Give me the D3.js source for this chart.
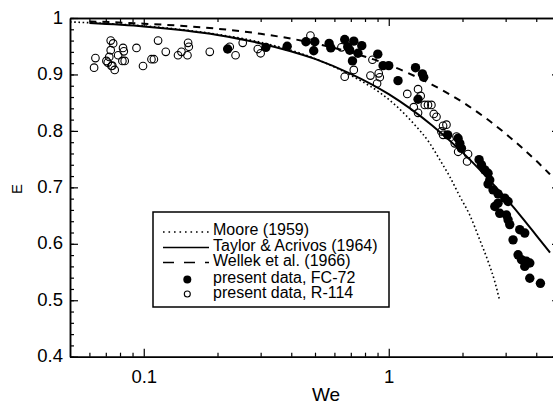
<!DOCTYPE html>
<html><head><meta charset="utf-8">
<script src="https://cdn.jsdelivr.net/npm/d3@7"></script>
<style>
body{margin:0;background:#fff}
svg{display:block}
text{font-family:"Liberation Sans",Arial,Helvetica,sans-serif;fill:#000}
</style>
</head><body>
<svg id="c" width="553" height="406"></svg>
<script>
// ---- data ----
const fc72We = [0.220,0.315,0.385,0.459,0.499,0.494,0.571,0.580,0.661,0.680,0.693,0.720,0.749,0.776,0.711,
  0.902,0.948,1.000,1.091,1.286,1.372,1.389,1.317,1.74,1.918,1.95,1.98,2.337,2.39,2.465,2.543,2.584,2.543,
  2.665,2.793,2.975,3.069,2.793,2.709,2.838,3.023,3.069,3.118,3.425,3.59,3.216,3.372,3.48,3.648,3.59,3.764,3.764,4.16];
const fc72E = [0.945,0.948,0.950,0.958,0.958,0.942,0.955,0.947,0.962,0.949,0.943,0.959,0.9375,0.951,0.924,
  0.936,0.9156,0.9156,0.889,0.912,0.901,0.895,0.856,0.793,0.787,0.778,0.769,0.749,0.740,0.731,0.725,0.713,0.706,
  0.6956,0.6885,0.681,0.675,0.672,0.666,0.654,0.651,0.6425,0.634,0.625,0.619,0.607,0.5805,0.572,0.569,0.560,0.566,0.539,0.530];

const r114We = [0.0627,0.0635,0.0704,0.0713,0.0733,0.0750,0.0733,0.0761,0.0786,0.0738,0.0823,0.0829,0.0818,0.0836,
  0.0934,0.0993,0.1075,0.110,0.1144,0.123,0.138,0.1425,0.1517,0.1527,0.1508,0.186,0.2244,0.237,0.2535,0.292,0.300,
  0.479,0.641,0.720,0.661,0.858,0.910,0.842,0.896,0.919,1.19,1.317,1.35,1.265,1.317,1.403,1.446,1.493,1.527,1.566,
  1.666,1.72,1.64,1.666,1.89,1.86,1.92,2.107,2.088,0.0744,0.0723];
const r114E = [0.912,0.929,0.924,0.921,0.960,0.955,0.943,0.908,0.934,0.915,0.947,0.941,0.924,0.924,
  0.947,0.915,0.927,0.927,0.960,0.940,0.934,0.940,0.956,0.949,0.934,0.940,0.949,0.934,0.956,0.945,0.9375,
  0.969,0.948,0.908,0.896,0.926,0.902,0.898,0.884,0.895,0.8655,0.874,0.862,0.842,0.832,0.846,0.846,0.846,0.830,0.825,
  0.809,0.811,0.799,0.793,0.790,0.778,0.763,0.759,0.746,0.9156,0.931];

const mooreWe = [0.05,0.1,0.2,0.3,0.5,0.76,0.919,1.257,1.47,1.615,1.774,1.95,2.141,2.352,2.543,2.709,2.838];
const mooreE  = [0.993,0.986,0.971,0.957,0.928,0.890,0.868,0.814,0.778,0.749,0.719,0.684,0.651,0.607,0.569,0.533,0.499];

const taylorWe = [0.06,0.1,0.2,0.3,0.5,0.7,1.0,1.5,2.0,2.5,3.0,3.5,4.0,4.55];
const taylorE  = [0.991,0.985,0.970,0.955,0.9275,0.901,0.865,0.810,0.762,0.719,0.681,0.6465,0.615,0.5845];

const wellekWe = [0.06,0.1,0.2,0.3,0.5,0.7,1.0,1.5,2.0,2.5,3.0,3.5,4.0,4.55];
const wellekE  = [0.994,0.990,0.981,0.972,0.955,0.939,0.917,0.882,0.851,0.822,0.795,0.770,0.747,0.723];

const xTickValues = [0.1, 1];
const xTickLabels = ["0.1", "1"];
const xMinorTicks = [0.06,0.07,0.08,0.09,0.2,0.3,0.4,0.5,0.6,0.7,0.8,0.9,2,3,4];
const yTickValues = [0.4,0.5,0.6,0.7,0.8,0.9,1];
const yTickLabels = ["0.4","0.5","0.6","0.7","0.8","0.9","1"];

const legendLabels = ["Moore (1959)","Taylor & Acrivos (1964)","Wellek et al. (1966)","present data, FC-72","present data, R-114"];

// ---- drawing ----
const svg = d3.select("#c");
const L = 70, R = 560, T = 18, B = 356.7;
const x = d3.scaleLog().domain([0.05, 5]).range([L, R]);
const y = d3.scaleLinear().domain([0.4, 1]).range([B, T]);
const yMinor = d3.range(0.4, 1.0001, 0.02).map(v => +v.toFixed(2));

function styleAxis(g){
  g.selectAll(".domain").attr("stroke","#000").attr("stroke-width",1.5);
  g.selectAll(".tick line").attr("stroke","#000").attr("stroke-width",1.2);
}
const xFmt = v => xTickLabels[xTickValues.indexOf(v)];
const yFmt = v => yTickLabels[yTickValues.findIndex(t => Math.abs(t - v) < 1e-9)];

// bottom
svg.append("g").attr("transform",`translate(0,${B})`)
  .call(d3.axisBottom(x).tickValues(xMinorTicks).tickSize(-4).tickSizeOuter(0).tickFormat(""))
  .call(styleAxis);
const gb = svg.append("g").attr("transform",`translate(0,${B})`)
  .call(d3.axisBottom(x).tickValues(xTickValues).tickSize(-8).tickSizeOuter(0).tickPadding(13).tickFormat(xFmt))
  .call(styleAxis);
gb.selectAll("text").style("font-size","18.5px").style("font-family",'"Liberation Sans",Arial,sans-serif');

// top
svg.append("g").attr("transform",`translate(0,${T})`)
  .call(d3.axisTop(x).tickValues(xMinorTicks).tickSize(-4).tickSizeOuter(0).tickFormat(""))
  .call(styleAxis);
svg.append("g").attr("transform",`translate(0,${T})`)
  .call(d3.axisTop(x).tickValues(xTickValues).tickSize(-8).tickSizeOuter(0).tickFormat(""))
  .call(styleAxis);

// left
svg.append("g").attr("transform",`translate(${L},0)`)
  .call(d3.axisLeft(y).tickValues(yMinor).tickSize(-4).tickSizeOuter(0).tickFormat(""))
  .call(styleAxis);
const gl = svg.append("g").attr("transform",`translate(${L},0)`)
  .call(d3.axisLeft(y).tickValues(yTickValues).tickSize(-8).tickSizeOuter(0).tickPadding(7).tickFormat(yFmt))
  .call(styleAxis);
gl.selectAll("text").attr("dy","0.28em").style("font-size","18.5px").style("font-family",'"Liberation Sans",Arial,sans-serif');

// right
svg.append("g").attr("transform",`translate(${R},0)`)
  .call(d3.axisRight(y).tickValues(yMinor).tickSize(-4).tickSizeOuter(0).tickFormat(""))
  .call(styleAxis);
svg.append("g").attr("transform",`translate(${R},0)`)
  .call(d3.axisRight(y).tickValues(yTickValues).tickSize(-8).tickSizeOuter(0).tickFormat(""))
  .call(styleAxis);

// axis titles
svg.append("text").attr("x",326).attr("y",400.5).attr("text-anchor","middle")
  .style("font-size","19px").text("We");
svg.append("text").attr("transform","translate(21.5,189) rotate(-90)").attr("text-anchor","middle")
  .style("font-size","15px").text("E");

// curves
const line = d3.line().x(d => x(d[0])).y(d => y(d[1])).curve(d3.curveMonotoneX);
const zip = (a,b) => a.map((v,i) => [v, b[i]]);
svg.append("path").datum(zip(mooreWe, mooreE)).attr("d", line)
  .attr("fill","none").attr("stroke","#000").attr("stroke-width",1.6).attr("stroke-dasharray","1.6,2.6");
svg.append("path").datum(zip(taylorWe, taylorE)).attr("d", line)
  .attr("fill","none").attr("stroke","#000").attr("stroke-width",2);
svg.append("path").datum(zip(wellekWe, wellekE)).attr("d", line)
  .attr("fill","none").attr("stroke","#000").attr("stroke-width",2).attr("stroke-dasharray","7,6");

// data points
svg.append("g").selectAll("circle").data(zip(fc72We, fc72E)).join("circle")
  .attr("cx", d => x(d[0])).attr("cy", d => y(d[1])).attr("r", 4.7).attr("fill","#000");
svg.append("g").selectAll("circle").data(zip(r114We, r114E)).join("circle")
  .attr("cx", d => x(d[0])).attr("cy", d => y(d[1])).attr("r", 3.8)
  .attr("fill","none").attr("stroke","#000").attr("stroke-width",1.1);

// legend
const lg = svg.append("g");
lg.append("rect").attr("x",153).attr("y",212).attr("width",236).attr("height",95)
  .attr("fill","#fff").attr("stroke","#000").attr("stroke-width",1.5);
const rowY = [232, 247.5, 262.5, 278, 293];
const lineStyles = [
  {w:1.6, dash:"1.6,3.9"},
  {w:1.6, dash:null},
  {w:1.6, dash:"11,10"}
];
lineStyles.forEach((s,i) => {
  const p = lg.append("line").attr("x1",163).attr("x2",209).attr("y1",rowY[i]).attr("y2",rowY[i])
    .attr("stroke","#000").attr("stroke-width",s.w);
  if (s.dash) p.attr("stroke-dasharray", s.dash);
});
lg.append("circle").attr("cx",187.3).attr("cy",rowY[3]+1.5).attr("r",4).attr("fill","#000");
lg.append("circle").attr("cx",187.3).attr("cy",rowY[4]+1).attr("r",3).attr("fill","none").attr("stroke","#000").attr("stroke-width",1.1);
legendLabels.forEach((t,i) => {
  lg.append("text").attr("x",213).attr("y",rowY[i]+3+ (i>=3?2:0)).style("font-size","16px").text(t);
});
</script>
</body></html>
